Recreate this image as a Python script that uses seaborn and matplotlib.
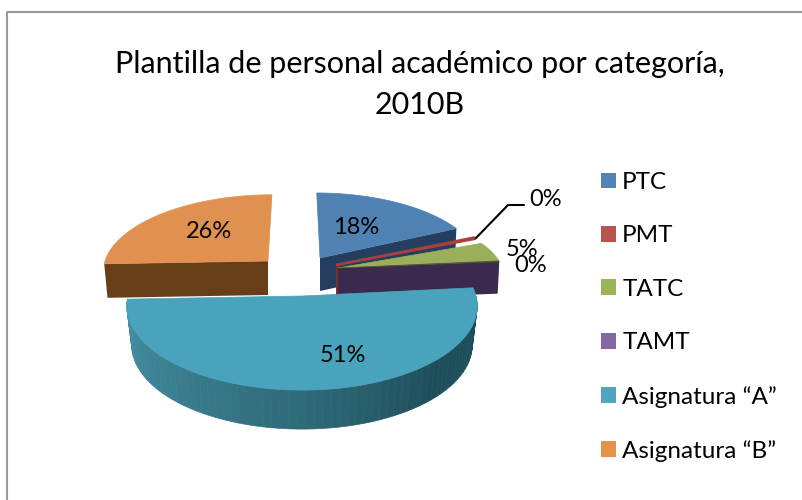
import numpy as np
import matplotlib
matplotlib.use("Agg")
import matplotlib.pyplot as plt
from matplotlib.colors import LinearSegmentedColormap
from matplotlib.patches import Patch, Polygon
import seaborn as sns

categories = ["PTC", "PMT", "TATC", "TAMT", "Asignatura “A”", "Asignatura “B”"]
values = [18.0, 0.4, 4.8, 0.2, 51.0, 25.6]
title_lines = ["Plantilla de personal académico por categoría,", "2010B"]

legend_colors = ["#5383b6", "#b9534f", "#9bb45c", "#8468a0", "#4fa5bd", "#e39448"]
top_colors = ["#4f81b3", "#a83f3a", "#9bae5b", "#4f5a30", "#4aa3bc", "#e0914f"]
cut_colors = ["#253e5f", "#7a2f2c", "#4f6128", "#3a2a4d", "#2a6a7c", "#673e18"]

# slice geometry in pixels: apex x, apex y, rx, ry, shear, depth, shrink of the lower rim
geometry = [
    (320, 258, 160, 72.7, -0.05, 33, 0.99),
    (336, 265, 160, 68, 0.0, 33, 0.99),
    (338, 268, 164, 64, 0.0, 32, 0.99),
    (338, 268, 164, 64, 0.0, 32, 0.99),
    (302, 296, 174, 83, 0.0, 39, 0.972),
    (268, 261, 163, 74, 0.06, 34, 0.98),
]
PERSPECTIVE = 0.118

label_pos = [(356, 227), (546, 200), (522, 249), (531, 266), (343, 355), (209, 232)]
leader_x = [476, 508, 524]
leader_y = [238, 205, 205]

sns.set_theme(style="white")
plt.rcParams["font.family"] = ["Lato", "DejaVu Sans"]

fig = plt.figure(figsize=(8.02, 5.0), dpi=100)
ax = fig.add_axes([0, 0, 1, 1])
ax.set_xlim(0, 802)
ax.set_ylim(500, 0)
ax.axis("off")


def rim(theta, geo):
    ax0, ay0, rx, ry, shear, _, _ = geo
    p, q = np.cos(theta), np.sin(theta)
    w = 1 + PERSPECTIVE * p
    return np.column_stack([ax0 + (rx * q + shear * ry * p) / w, ay0 - ry * p / w])


def lower(pts, geo):
    out = pts.copy()
    out[:, 0] = geo[0] + (pts[:, 0] - geo[0]) * geo[6]
    out[:, 1] = pts[:, 1] + geo[5]
    return out


# angles come from the values, clockwise from twelve o'clock
edges = np.deg2rad(np.concatenate([[0], np.cumsum(values)]) / np.sum(values) * 360)
side_cmap = LinearSegmentedColormap.from_list("side", ["#4490a8", "#3b7f90", "#2f6a78", "#1f4e5b", "#1f4e5b"])

for i in range(len(values)):
    geo = geometry[i]
    t0, t1 = edges[i], edges[i + 1]
    arc = rim(np.linspace(t0, t1, 120), geo)
    apex = np.array([[geo[0], geo[1]]], dtype=float)

    # cut face: the last slice shows its starting edge, the others their end edge
    cut_edge = np.vstack([apex, arc[:1] if i == 5 else arc[-1:]])
    if i in (0, 2, 3, 5):
        ax.add_patch(Polygon(np.vstack([cut_edge, lower(cut_edge, geo)[::-1]]), fc=cut_colors[i], ec="none"))
    if i == 1:
        low = lower(cut_edge[:1], geo)
        ax.add_patch(Polygon(np.vstack([cut_edge[:1], cut_edge[:1] + [3, 0], low + [3, 0], low]), fc=cut_colors[i], ec="none"))

    # outer wall of the big front slice, shaded along the rim
    if i == 4:
        n = 70
        th = np.linspace(np.pi / 2, t1, n + 1)
        up = rim(th, geo)
        low = lower(up, geo)
        for j in range(n):
            quad = np.vstack([up[j:j + 2], low[j:j + 2][::-1]])
            ax.add_patch(Polygon(quad, fc=side_cmap(1 - j / n), ec=side_cmap(1 - j / n), lw=0.5))

    edge_w = 1.6 if i == 1 else 0.5
    ax.add_patch(Polygon(np.vstack([apex, arc]), fc=top_colors[i], ec=top_colors[i], lw=edge_w))

# percentage labels
for v, (x, y) in zip(values, label_pos):
    ax.text(x, y, f"{v / np.sum(values) * 100:.0f}%", ha="center", va="center", fontsize=17, color="black")

ax.plot(leader_x, leader_y, color="black", lw=1.5)

# frame of the chart, open on the right and at the bottom
ax.plot([7, 7, 802], [500, 12, 12], color="#9a9a9a", lw=1.5)

ax.text(420, 64, title_lines[0], ha="center", va="center", fontsize=22, color="black")
ax.text(420, 105, title_lines[1], ha="center", va="center", fontsize=22, color="black")

handles = [Patch(fc=c, ec="none") for c in legend_colors]
ax.legend(
    handles, categories, loc="upper left", bbox_to_anchor=(601 / 802, 1 - 172 / 500),
    frameon=False, fontsize=17.5, labelspacing=1.335, handlelength=0.62, handleheight=0.62,
    handletextpad=0.25, borderpad=0, borderaxespad=0, labelcolor="black",
)

plt.savefig("out.png", dpi=100)
